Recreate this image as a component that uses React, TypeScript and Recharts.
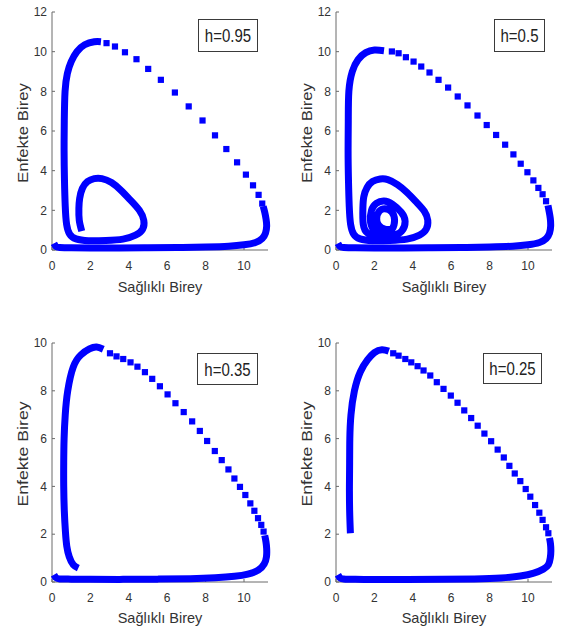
import { ScatterChart, Scatter, XAxis, YAxis } from "recharts";

type Pt = [number, number];

const FONT = '"Liberation Sans", Arial, Helvetica, sans-serif';
const BLUE = "#0000ff";
const AXIS_COLOR = "#6a6a6a";
const TEXT_COLOR = "#333333";

const X_MAX = 11.25;
const X_TICKS = [0, 2, 4, 6, 8, 10];
const Y_TICKS_TOP = [0, 2, 4, 6, 8, 10, 12];
const Y_TICKS_BOTTOM = [0, 2, 4, 6, 8, 10];

const X_TITLE = "Sağlıklı Birey";
const Y_TITLE = "Enfekte Birey";

// h = 0.95
const h95Rise: Pt[] = [
  [1.55, 0.95], [1.42, 1.5], [1.4, 2.1], [1.44, 2.6], [1.58, 3.1], [1.85, 3.45],
  [2.2, 3.6], [2.6, 3.6], [3.1, 3.4], [3.6, 3.0], [4.1, 2.5], [4.55, 2.0],
  [4.78, 1.5], [4.72, 1.05], [4.35, 0.75], [3.7, 0.55], [2.8, 0.48], [1.9, 0.47],
  [1.25, 0.56], [0.92, 0.8], [0.76, 1.3], [0.69, 2.2], [0.65, 3.5], [0.63, 5.0],
  [0.64, 6.5], [0.68, 8.0], [0.8, 8.9], [1.0, 9.5], [1.3, 10.0], [1.7, 10.35],
  [2.2, 10.5], [2.55, 10.5],
];
const h95Sparse: Pt[] = [
  [2.84, 10.43], [3.28, 10.26], [3.8, 9.97], [4.4, 9.62], [5.01, 9.13], [5.67, 8.58],
  [6.4, 7.94], [7.12, 7.24], [7.84, 6.53], [8.49, 5.78], [9.08, 5.09], [9.64, 4.42],
  [10.1, 3.8], [10.47, 3.26], [10.76, 2.78], [10.95, 2.34],
];
const h95Fall: Pt[] = [
  [11.0, 2.2], [11.08, 1.9], [11.15, 1.55], [11.18, 1.2], [11.12, 0.85], [10.95, 0.58],
  [10.6, 0.38], [10.0, 0.26], [9.2, 0.19], [8.0, 0.15], [6.5, 0.12], [5.0, 0.11],
  [3.5, 0.1], [2.0, 0.1], [1.0, 0.11], [0.4, 0.13], [0.2, 0.18], [0.1, 0.33],
];

// h = 0.5
const h50Rise: Pt[] = [
  [2.95, 1.05], [2.55, 1.05], [2.22, 1.25], [2.12, 1.6], [2.25, 1.95], [2.55, 2.08],
  [2.9, 1.92], [3.05, 1.5], [2.92, 1.05], [2.55, 0.85], [2.05, 0.95], [1.8, 1.4],
  [1.85, 2.0], [2.1, 2.35], [2.5, 2.47], [2.95, 2.3], [3.4, 1.9], [3.6, 1.45],
  [3.42, 0.95], [2.9, 0.72], [2.2, 0.7], [1.65, 0.85], [1.42, 1.3], [1.4, 2.1],
  [1.45, 2.7], [1.62, 3.15], [1.9, 3.45], [2.3, 3.58], [2.7, 3.55], [3.2, 3.3],
  [3.7, 2.9], [4.2, 2.4], [4.6, 1.95], [4.78, 1.5], [4.7, 1.05], [4.35, 0.75],
  [3.7, 0.55], [2.8, 0.48], [1.9, 0.47], [1.25, 0.56], [0.92, 0.8], [0.76, 1.3],
  [0.69, 2.2], [0.65, 3.5], [0.63, 5.0], [0.64, 6.5], [0.67, 8.0], [0.85, 9.0],
  [1.15, 9.6], [1.55, 9.95], [2.0, 10.08], [2.5, 10.05],
];
const h50Sparse: Pt[] = [
  [2.91, 10.01], [3.26, 9.92], [3.64, 9.72], [4.04, 9.5], [4.44, 9.25], [4.87, 8.95],
  [5.34, 8.58], [5.84, 8.19], [6.34, 7.74], [6.85, 7.29], [7.37, 6.78], [7.85, 6.3],
  [8.34, 5.8], [8.81, 5.31], [9.24, 4.82], [9.62, 4.35], [9.97, 3.92], [10.28, 3.51],
  [10.54, 3.13], [10.76, 2.81], [10.94, 2.46],
];
const h50Fall: Pt[] = [
  [11.04, 2.25], [11.1, 1.95], [11.16, 1.6], [11.18, 1.2], [11.12, 0.85], [10.95, 0.58],
  [10.6, 0.38], [10.0, 0.26], [9.2, 0.19], [8.0, 0.15], [6.5, 0.12], [5.0, 0.11],
  [3.5, 0.1], [2.0, 0.1], [1.0, 0.11], [0.4, 0.13], [0.2, 0.18], [0.1, 0.33],
];

// h = 0.35
const h35Rise: Pt[] = [
  [1.37, 0.58], [1.11, 0.72], [0.9, 1.05], [0.77, 1.5], [0.7, 2.1], [0.64, 3.0],
  [0.61, 4.0], [0.61, 5.0], [0.63, 6.0], [0.69, 7.0], [0.82, 8.0], [1.11, 9.0],
  [1.5, 9.5], [1.95, 9.75], [2.32, 9.83], [2.67, 9.74],
];
const h35Sparse: Pt[] = [
  [3.02, 9.57], [3.36, 9.44], [3.71, 9.33], [4.09, 9.19], [4.45, 9.01], [4.84, 8.78],
  [5.22, 8.5], [5.62, 8.19], [6.02, 7.85], [6.43, 7.48], [6.86, 7.11], [7.3, 6.72],
  [7.7, 6.32], [8.08, 5.9], [8.48, 5.48], [8.84, 5.1], [9.19, 4.71], [9.5, 4.33],
  [9.79, 3.98], [10.07, 3.64], [10.33, 3.29], [10.54, 2.98], [10.73, 2.67], [10.9, 2.39],
  [11.02, 2.11],
];
const h35Fall: Pt[] = [
  [11.08, 1.95], [11.14, 1.7], [11.18, 1.4], [11.17, 1.05], [11.05, 0.75], [10.75, 0.5],
  [10.2, 0.33], [9.5, 0.24], [8.5, 0.18], [7.2, 0.14], [5.5, 0.12], [3.7, 0.11],
  [2.0, 0.11], [1.0, 0.12], [0.4, 0.13], [0.2, 0.18], [0.1, 0.3],
];

// h = 0.25
const h25Rise: Pt[] = [
  [0.75, 2.04], [0.71, 3.0], [0.7, 4.0], [0.71, 5.0], [0.72, 6.0], [0.78, 7.0],
  [0.96, 8.0], [1.27, 8.8], [1.65, 9.3], [2.0, 9.6], [2.39, 9.72], [2.75, 9.66],
];
const h25Sparse: Pt[] = [
  [2.98, 9.57], [3.26, 9.47], [3.61, 9.33], [3.92, 9.19], [4.25, 9.03], [4.56, 8.85],
  [4.91, 8.64], [5.25, 8.36], [5.6, 8.08], [5.98, 7.8], [6.33, 7.5], [6.68, 7.18],
  [7.04, 6.86], [7.38, 6.54], [7.73, 6.21], [8.08, 5.89], [8.42, 5.54], [8.74, 5.21],
  [9.03, 4.86], [9.31, 4.54], [9.6, 4.22], [9.88, 3.89], [10.12, 3.57], [10.37, 3.22],
  [10.59, 2.9], [10.76, 2.6], [10.94, 2.29], [11.06, 2.04],
];
const h25Fall: Pt[] = [
  [11.12, 1.85], [11.17, 1.6], [11.19, 1.3], [11.16, 1.0], [11.06, 0.72], [10.8, 0.54],
  [10.3, 0.37], [9.6, 0.25], [8.6, 0.17], [7.2, 0.13], [5.5, 0.11], [3.7, 0.1],
  [2.0, 0.1], [1.0, 0.11], [0.4, 0.13], [0.2, 0.18], [0.1, 0.3],
];

const toRows = (pts: Pt[]) => pts.map(([x, y]) => ({ x, y }));

const LINE_STYLE = {
  stroke: BLUE,
  strokeWidth: 7,
  strokeLinejoin: "round" as const,
  strokeLinecap: "butt" as const,
};
const AXIS_STYLE = { stroke: AXIS_COLOR, strokeWidth: 1 };
const TICK_STYLE = { fill: TEXT_COLOR, fontSize: 12, fontFamily: FONT };

const noDot = () => <g />;
const square = (props: any) => (
  <rect x={props.cx - 3.1} y={props.cy - 3.1} width={6.2} height={6.2} fill={BLUE} />
);

interface PanelDef {
  label: string;
  left: number;
  top: number;
  marginTop: number;
  xAxisHeight: number;
  yMax: number;
  yTicks: number[];
  rise: Pt[];
  sparse: Pt[];
  fall: Pt[];
  box: { left: number; top: number; width: number; height: number };
  xTitleTop: number;
  yTitleTop: number;
  yTitleStretch: number;
}

const PANELS: PanelDef[] = [
  {
    label: "h=0.95", left: 0, top: 0, marginTop: 12, xAxisHeight: 60,
    yMax: 12, yTicks: Y_TICKS_TOP, rise: h95Rise, sparse: h95Sparse, fall: h95Fall,
    box: { left: 198, top: 19, width: 60, height: 33 },
    xTitleTop: 287, yTitleTop: 133, yTitleStretch: 1.16,
  },
  {
    label: "h=0.5", left: 284, top: 0, marginTop: 12, xAxisHeight: 60,
    yMax: 12, yTicks: Y_TICKS_TOP, rise: h50Rise, sparse: h50Sparse, fall: h50Fall,
    box: { left: 210, top: 19, width: 51, height: 33 },
    xTitleTop: 287, yTitleTop: 133, yTitleStretch: 1.16,
  },
  {
    label: "h=0.35", left: 0, top: 320, marginTop: 23, xAxisHeight: 48,
    yMax: 10, yTicks: Y_TICKS_BOTTOM, rise: h35Rise, sparse: h35Sparse, fall: h35Fall,
    box: { left: 197, top: 33, width: 61, height: 32 },
    xTitleTop: 298, yTitleTop: 134, yTitleStretch: 1.22,
  },
  {
    label: "h=0.25", left: 284, top: 320, marginTop: 23, xAxisHeight: 48,
    yMax: 10, yTicks: Y_TICKS_BOTTOM, rise: h25Rise, sparse: h25Sparse, fall: h25Fall,
    box: { left: 199, top: 33, width: 59, height: 31 },
    xTitleTop: 298, yTitleTop: 134, yTitleStretch: 1.22,
  },
];

function Panel({ p }: { p: PanelDef }) {
  return (
    <div style={{ position: "absolute", left: p.left, top: p.top, width: 284, height: 310 }}>
      <ScatterChart
        width={284}
        height={310}
        margin={{ top: p.marginTop, right: 16, bottom: 0, left: 0 }}
      >
        <XAxis
          type="number"
          dataKey="x"
          domain={[0, X_MAX]}
          ticks={X_TICKS}
          interval={0}
          height={p.xAxisHeight}
          tickSize={-3}
          tickMargin={14}
          tick={TICK_STYLE}
          axisLine={AXIS_STYLE}
          tickLine={AXIS_STYLE}
        />
        <YAxis
          type="number"
          dataKey="y"
          domain={[0, p.yMax]}
          ticks={p.yTicks}
          interval={0}
          width={52}
          tickSize={-3}
          tickMargin={8}
          tick={TICK_STYLE}
          axisLine={AXIS_STYLE}
          tickLine={AXIS_STYLE}
        />
        <XAxis
          xAxisId="top"
          orientation="top"
          type="number"
          domain={[0, X_MAX]}
          ticks={X_TICKS}
          interval={0}
          height={0}
          tickSize={-3}
          tick={false}
          allowDataOverflow
          axisLine={AXIS_STYLE}
          tickLine={AXIS_STYLE}
        />
        <YAxis
          yAxisId="right"
          orientation="right"
          type="number"
          domain={[0, p.yMax]}
          ticks={p.yTicks}
          interval={0}
          width={0}
          tickSize={-3}
          tick={false}
          allowDataOverflow
          axisLine={AXIS_STYLE}
          tickLine={AXIS_STYLE}
        />
        <Scatter
          data={toRows(p.rise)}
          fill={BLUE}
          line={LINE_STYLE}
          lineJointType="natural"
          shape={noDot}
          isAnimationActive={false}
        />
        <Scatter
          data={toRows(p.fall)}
          fill={BLUE}
          line={LINE_STYLE}
          lineJointType="natural"
          shape={noDot}
          isAnimationActive={false}
        />
        <Scatter
          data={toRows(p.sparse)}
          fill={BLUE}
          shape={square}
          isAnimationActive={false}
        />
      </ScatterChart>

      <div
        style={{
          position: "absolute",
          left: p.box.left,
          top: p.box.top,
          width: p.box.width,
          height: p.box.height,
          boxSizing: "border-box",
          border: "1px solid #3a3a3a",
          background: "#fff",
          display: "flex",
          alignItems: "center",
          justifyContent: "center",
          fontFamily: FONT,
          fontSize: 15,
          color: "#222",
        }}
      >
        <span style={{ display: "inline-block", transform: "scaleY(1.2)" }}>{p.label}</span>
      </div>

      <div
        style={{
          position: "absolute",
          left: 160,
          top: p.xTitleTop,
          transform: "translate(-50%, -50%)",
          whiteSpace: "nowrap",
          fontFamily: FONT,
          fontSize: 14.5,
          color: TEXT_COLOR,
        }}
      >
        {X_TITLE}
      </div>
      <div
        style={{
          position: "absolute",
          left: 23,
          top: p.yTitleTop,
          transform: `translate(-50%, -50%) rotate(-90deg) scaleX(${p.yTitleStretch})`,
          whiteSpace: "nowrap",
          fontFamily: FONT,
          fontSize: 14.5,
          color: TEXT_COLOR,
        }}
      >
        {Y_TITLE}
      </div>
    </div>
  );
}

export default function App() {
  return (
    <div
      style={{
        position: "absolute",
        left: 0,
        top: 0,
        width: 568,
        height: 630,
        background: "#fff",
        overflow: "hidden",
      }}
    >
      {PANELS.map((p) => (
        <Panel key={p.label} p={p} />
      ))}
    </div>
  );
}
